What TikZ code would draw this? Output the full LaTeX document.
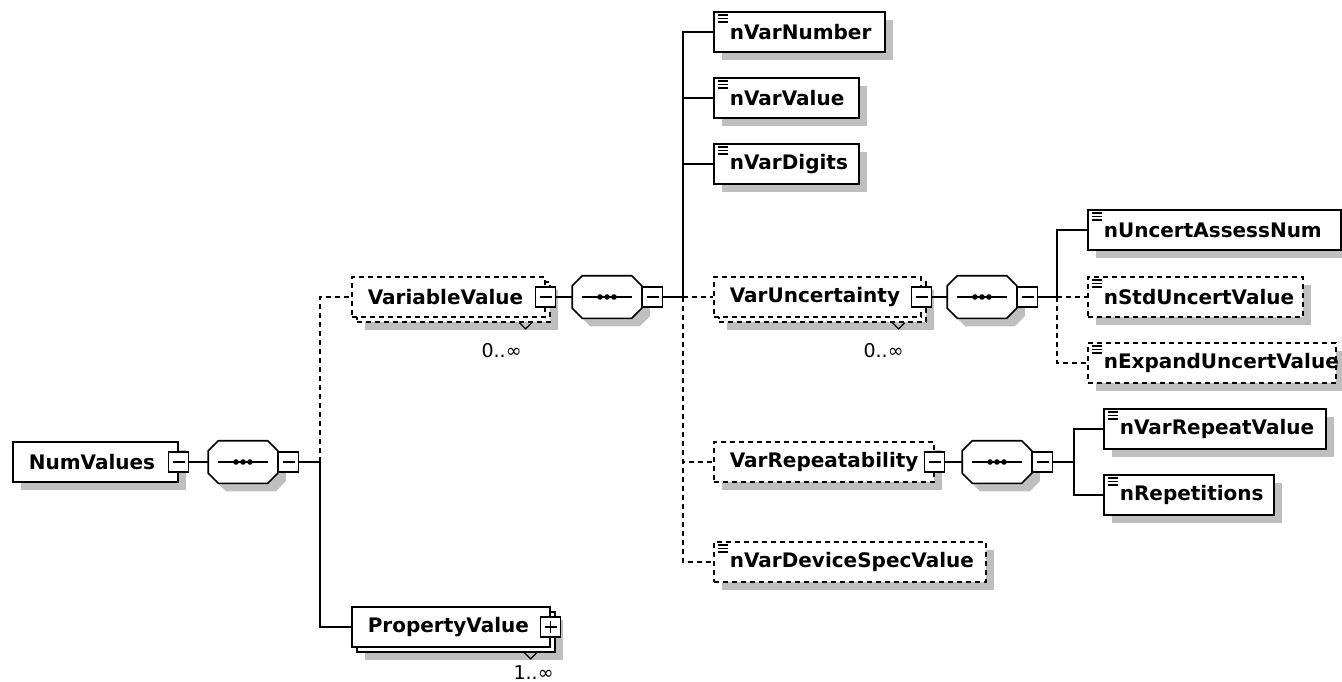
\documentclass[tikz,border=0pt]{standalone}
\usepackage{fontspec}
\setmainfont{DejaVu Sans}
\usetikzlibrary{shadows}
\newcommand\elfont{\bfseries\fontsize{20}{22}\selectfont}
\newcommand\multfont{\fontsize{19}{21}\selectfont}
\begin{document}
\begin{tikzpicture}[x=1pt,y=-1pt,line width=1.6pt,
  elem/.style={draw,fill=white,anchor=west,minimum height=40pt,minimum width=#1,
    /utils/exec={\pgfmathsetlengthmacro\elw{#1-32pt}},text width=\elw,
    inner xsep=16pt,align=left,font=\elfont},
  single/.style={drop shadow={shadow xshift=8pt,shadow yshift=-8pt,fill=black!25,opacity=1}},
  multi/.style={drop shadow={shadow xshift=13pt,shadow yshift=-13pt,fill=black!25,opacity=1},
    general shadow={shadow xshift=5pt,shadow yshift=-5pt,draw,fill=white}},
  opt/.style={dash pattern=on 5pt off 4pt},
  simple/.style={path picture={\foreach \d in {3,6.5,10}
    \draw[solid,line width=1.2pt] ([xshift=4pt,yshift=-\d*1pt]path picture bounding box.north west) -- ++(10pt,0);}},
  minus/.style={draw,solid,fill=white,minimum size=20pt,inner sep=0pt,line width=1.4pt,
    path picture={\draw[line width=1.4pt] ([xshift=4pt]path picture bounding box.west) -- ([xshift=-4pt]path picture bounding box.east);}},
  plus/.style={draw,solid,fill=white,minimum size=20pt,inner sep=0pt,line width=1.4pt,
    path picture={\draw[line width=1.4pt] ([xshift=4pt]path picture bounding box.west) -- ([xshift=-4pt]path picture bounding box.east);
      \draw[line width=1.4pt] ([yshift=4pt]path picture bounding box.south) -- ([yshift=-4pt]path picture bounding box.north);}},
  octa/.style={draw,fill=white,single,
    path picture={\draw[line width=1.6pt] ([xshift=10pt]path picture bounding box.west) -- ([xshift=-10pt]path picture bounding box.east);
      \foreach \dx in {-7,0,7} \fill[black] ([xshift=\dx*1pt]path picture bounding box.center) circle (2.8pt);}},
  seq/.style={minimum width=68pt,minimum height=41pt,inner sep=0pt,
    append after command={\pgfextra{\draw[octa] ([xshift=10pt]\tikzlastnode.north west)
      -- ([xshift=-10pt]\tikzlastnode.north east) -- ([yshift=-10pt]\tikzlastnode.north east)
      -- ([yshift=10pt]\tikzlastnode.south east) -- ([xshift=-10pt]\tikzlastnode.south east)
      -- ([xshift=10pt]\tikzlastnode.south west) -- ([yshift=10pt]\tikzlastnode.south west)
      -- ([yshift=-10pt]\tikzlastnode.north west) -- cycle;}}},
  notch/.style={line width=1.2pt,solid},
  mult/.style={font=\multfont,inner sep=0pt}]
\useasboundingbox (0,0) rectangle (1342,682);

% root and first sequence
\node[elem=165pt,single] (numvalues) at (12,462) {NumValues};
\node[minus] (numvaluesb) at (numvalues.east) {};
\node[seq] (seq1) at (243,462) {};
\node[minus,anchor=west] (seq1b) at (seq1.east) {};

\node[elem=193pt,multi,opt] (vvalue) at (351,297) {VariableValue};
\node[minus] (vvalueb) at (vvalue.east) {};
\draw[notch] ([xshift=-26pt,yshift=-5pt]vvalue.south east) -- ++(6pt,-6pt) -- ++(6pt,6pt);
\node[mult] (vvaluem) at ([xshift=-44pt,yshift=-33pt]vvalue.south east) {0..∞};

\node[elem=198pt,multi] (pvalue) at (351,627) {PropertyValue};
\node[plus] (pvalueb) at (pvalue.east) {};
\draw[notch] ([xshift=-26pt,yshift=-5pt]pvalue.south east) -- ++(6pt,-6pt) -- ++(6pt,6pt);
\node[mult] (pvaluem) at ([xshift=-17pt,yshift=-25pt]pvalue.south east) {1..∞};

% VariableValue content
\node[seq] (seq2) at (607,297) {};
\node[minus,anchor=west] (seq2b) at (seq2.east) {};
\node[elem=171pt,single,simple] (nvarnumber) at (713,32) {nVarNumber};
\node[elem=145pt,single,simple] (nvarvalue) at (713,98) {nVarValue};
\node[elem=145pt,single,simple] (nvardigits) at (713,164) {nVarDigits};
\node[elem=207pt,multi,opt] (varunc) at (713,297) {VarUncertainty};
\node[minus] (varuncb) at (varunc.east) {};
\draw[notch] ([xshift=-29pt,yshift=-5pt]varunc.south east) -- ++(6pt,-6pt) -- ++(6pt,6pt);
\node[mult] (varuncm) at ([xshift=-38pt,yshift=-33pt]varunc.south east) {0..∞};
\node[elem=220pt,single,opt] (varrep) at (713,462) {VarRepeatability};
\node[minus] (varrepb) at (varrep.east) {};
\node[elem=272pt,single,opt,simple] (nvardevice) at (713,562) {nVarDeviceSpecValue};

% VarUncertainty content
\node[seq] (seq3) at (982,297) {};
\node[minus,anchor=west] (seq3b) at (seq3.east) {};
\node[elem=253pt,single,simple] (nuncassess) at (1087,230) {nUncertAssessNum};
\node[elem=215pt,single,opt,simple] (nstdunc) at (1087,297) {nStdUncertValue};
\node[elem=248pt,single,opt,simple] (nexpunc) at (1087,363) {nExpandUncertValue};

% VarRepeatability content
\node[seq] (seq4) at (997,462) {};
\node[minus,anchor=west] (seq4b) at (seq4.east) {};
\node[elem=222pt,single,simple] (nvarrepeat) at (1103,429) {nVarRepeatValue};
\node[elem=170pt,single,simple] (nrepetitions) at (1103,495) {nRepetitions};

% connectors
\coordinate (t1) at (320,462);
\coordinate (t2) at (683,297);
\coordinate (t3) at (1057,297);
\coordinate (t4) at (1074,462);
\draw (numvaluesb.east) -- (seq1.west);
\draw (seq1b.east) -- (t1) |- (pvalue.west);
\draw[opt] (t1) |- (vvalue.west);
\draw (vvalueb.east) -- (seq2.west);
\draw (seq2b.east) -- (t2) |- (nvarnumber.west);
\draw (t2) |- (nvarvalue.west);
\draw (t2) |- (nvardigits.west);
\draw[opt] (t2) -- (varunc.west);
\draw[opt] (t2) |- (varrep.west);
\draw[opt] (t2) |- (nvardevice.west);
\draw (varuncb.east) -- (seq3.west);
\draw (seq3b.east) -- (t3) |- (nuncassess.west);
\draw[opt] (t3) -- (nstdunc.west);
\draw[opt] (t3) |- (nexpunc.west);
\draw (varrepb.east) -- (seq4.west);
\draw (seq4b.east) -- (t4) |- (nvarrepeat.west);
\draw (t4) |- (nrepetitions.west);
\end{tikzpicture}
\end{document}
